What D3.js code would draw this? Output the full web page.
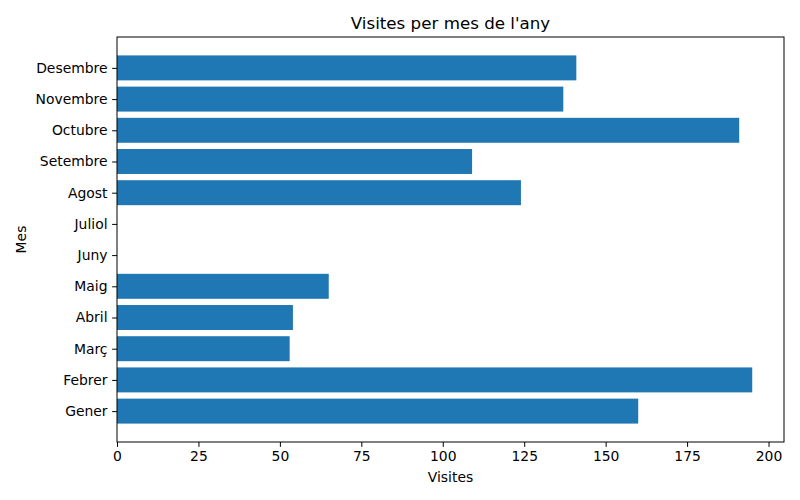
<!DOCTYPE html>
<html>
<head>
<meta charset="utf-8">
<script src="https://cdn.jsdelivr.net/npm/d3@7"></script>
<style>
  body { margin: 0; background: #fff; }
  text { font-family: "DejaVu Sans", sans-serif; fill: #000; }
</style>
</head>
<body>
<div id="container"></div>
<script>
// data
const months = ['Gener', 'Febrer', 'Març', 'Abril', 'Maig', 'Juny', 'Juliol', 'Agost', 'Setembre', 'Octubre', 'Novembre', 'Desembre']
const visits = [160, 195, 53, 54, 65, 0, 0, 124, 109, 191, 137, 141]
const xTicks = [0, 25, 50, 75, 100, 125, 150, 175, 200]

const w = 800
const h = 500
const margin = { top: 37, right: 16, bottom: 58, left: 117 }
const iw = w - margin.left - margin.right
const ih = h - margin.top - margin.bottom

const svg = d3.select('#container')
    .append('svg')
    .attr('width', w)
    .attr('height', h)

const g = svg.append('g')
    .attr('transform', 'translate(' + margin.left + ',' + margin.top + ')')

// matplotlib-like 5% margins
const xMax = d3.max(visits)
const x = d3.scaleLinear()
    .domain([0, xMax * 1.05])
    .range([0, iw])

const barH = 0.8
const lo = -barH / 2, hi = months.length - 1 + barH / 2
const pad = (hi - lo) * 0.05
const y = d3.scaleLinear()
    .domain([lo - pad, hi + pad])
    .range([ih, 0])

// bars
g.selectAll('rect.bar')
    .data(visits)
    .enter()
    .append('rect')
    .attr('class', 'bar')
    .attr('x', x(0))
    .attr('y', (d, i) => y(i + barH / 2))
    .attr('width', d => x(d) - x(0))
    .attr('height', y(0) - y(barH))
    .attr('fill', '#1f77b4')

// axes
const xAxis = g.append('g')
    .attr('transform', 'translate(0,' + ih + ')')
    .call(d3.axisBottom(x).tickValues(xTicks).tickSize(4.9).tickPadding(4.6))

const yAxis = g.append('g')
    .call(d3.axisLeft(y)
        .tickValues(d3.range(months.length))
        .tickFormat(i => months[i])
        .tickSize(4.9).tickPadding(4.6))

;[xAxis, yAxis].forEach(a => {
    a.selectAll('.domain').remove()
    a.selectAll('line').attr('stroke', '#000').attr('stroke-width', 1)
    a.selectAll('text').style('font-size', '13.9px').style('font-family', '"DejaVu Sans", sans-serif')
})

// frame
g.append('rect')
    .attr('width', iw)
    .attr('height', ih)
    .attr('fill', 'none')
    .attr('stroke', '#000')
    .attr('stroke-width', 1)

// title + labels
svg.append('text')
    .attr('x', margin.left + iw / 2)
    .attr('y', 29)
    .attr('text-anchor', 'middle')
    .style('font-size', '16.7px')
    .text("Visites per mes de l'any")

svg.append('text')
    .attr('x', margin.left + iw / 2)
    .attr('y', 482)
    .attr('text-anchor', 'middle')
    .style('font-size', '13.9px')
    .text('Visites')

svg.append('text')
    .attr('transform', 'translate(26,' + (margin.top + ih / 2) + ') rotate(-90)')
    .attr('text-anchor', 'middle')
    .style('font-size', '13.9px')
    .text('Mes')
</script>
</body>
</html>
